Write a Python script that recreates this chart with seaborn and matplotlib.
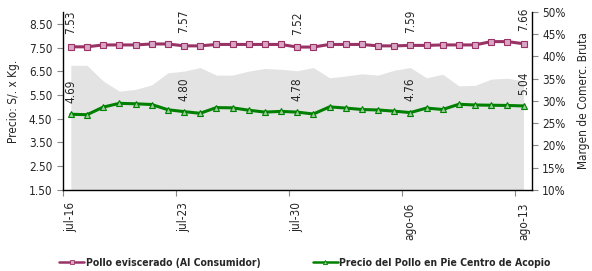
import numpy as np
import pandas as pd
import matplotlib
matplotlib.use("Agg")
import matplotlib.pyplot as plt
import seaborn as sns
from matplotlib.ticker import FuncFormatter, FixedLocator
from matplotlib.lines import Line2D

sns.set_style("white")
plt.rcParams['font.family'] = ['DejaVu Sans']
plt.rcParams['font.stretch'] = 'condensed'

# daily series, jul-16 .. ago-13
tick_labels = ["jul-16", "jul-23", "jul-30", "ago-06", "ago-13"]
pollo_eviscerado = [7.53, 7.53, 7.61, 7.61, 7.61, 7.65, 7.65, 7.57, 7.57, 7.63,
                    7.63, 7.63, 7.63, 7.63, 7.52, 7.52, 7.63, 7.63, 7.63, 7.57,
                    7.57, 7.59, 7.59, 7.61, 7.61, 7.61, 7.75, 7.75, 7.66]
pollo_pie = [4.69, 4.67, 4.99, 5.15, 5.13, 5.10, 4.88, 4.80, 4.73, 4.97,
             4.96, 4.86, 4.78, 4.81, 4.78, 4.70, 5.00, 4.95, 4.89, 4.87,
             4.82, 4.76, 4.95, 4.89, 5.11, 5.08, 5.07, 5.06, 5.04]
margen = [0.380, 0.380, 0.345, 0.322, 0.326, 0.336, 0.363, 0.367, 0.375, 0.358,
          0.358, 0.367, 0.373, 0.371, 0.368, 0.375, 0.352, 0.356, 0.361, 0.358,
          0.369, 0.375, 0.352, 0.360, 0.334, 0.335, 0.349, 0.351, 0.345]
series_names = ["Pollo eviscerado (Al Consumidor)",
                "Precio del Pollo en Pie Centro de Acopio"]

df = pd.DataFrame({"dia": np.arange(len(pollo_eviscerado)),
                   "eviscerado": pollo_eviscerado,
                   "pie": pollo_pie,
                   "margen": margen})

purple = "#993366"
green = "#008000"
fs = 8.5

fig = plt.figure(figsize=(5.92, 2.71), dpi=100)
ax = fig.add_axes([0.106, 0.299, 0.792, 0.657])
ax2 = ax.twinx()

# margin area on the secondary axis, behind the price lines
ax2.fill_between(df["dia"], 0, df["margen"], color="#e3e3e3", lw=0)
ax2.set_ylim(0.10, 0.50)
ax2.set_yticks(np.arange(0.10, 0.501, 0.05))
ax2.yaxis.set_major_formatter(FuncFormatter(lambda v, p: f"{v*100:.0f}%"))
ax2.set_ylabel("Margen de Comerc. Bruta", fontsize=fs, labelpad=8)
ax.set_zorder(ax2.get_zorder() + 1)
ax.patch.set_visible(False)

sns.lineplot(data=df, x="dia", y="eviscerado", ax=ax, color=purple, lw=2.2,
             marker="s", markersize=4.5, markerfacecolor="#d9a6c6",
             markeredgecolor=purple, markeredgewidth=0.8, legend=False)
sns.lineplot(data=df, x="dia", y="pie", ax=ax, color=green, lw=2.2,
             marker="^", markersize=4.5, markerfacecolor="#99cc99",
             markeredgecolor=green, markeredgewidth=0.8, legend=False)

for i in range(0, len(df), 7):
    ax.annotate(f"{pollo_eviscerado[i]:.2f}", (i, pollo_eviscerado[i]),
                xytext=(0, 9), textcoords="offset points", rotation=90,
                ha="center", va="bottom", fontsize=fs)
    ax.annotate(f"{pollo_pie[i]:.2f}", (i, pollo_pie[i]),
                xytext=(0, 8), textcoords="offset points", rotation=90,
                ha="center", va="bottom", fontsize=fs)

ax.set_xlim(-0.5, len(df) - 0.5)
ax.set_ylim(1.5, 9.0)
ax.set_yticks(np.arange(1.5, 8.51, 1.0))
ax.yaxis.set_major_formatter(FuncFormatter(lambda v, p: f"{v:.2f}"))
ax.set_ylabel("Precio: S/. x Kg.", fontsize=fs, labelpad=6)
ax.set_xlabel("")

# ticks at category boundaries, labels centred on the points
ax.xaxis.set_major_locator(FixedLocator(np.arange(-0.5, len(df), 7)))
ax.xaxis.set_major_formatter(FuncFormatter(lambda v, p: ""))
ax.xaxis.set_minor_locator(FixedLocator(np.arange(0, len(df), 7)))
ax.set_xticklabels(tick_labels, minor=True, rotation=90, fontsize=fs)
ax.tick_params(axis="x", which="major", length=4, direction="out", bottom=True, color="#888888")
ax.tick_params(axis="x", which="minor", length=0, pad=9)
ax.tick_params(axis="y", length=4, direction="out", left=True, labelsize=fs, color="#888888")
ax2.tick_params(axis="y", length=4, direction="out", right=True, labelsize=fs, color="#888888")

for a in (ax, ax2):
    a.spines["top"].set_visible(False)
    for s in ("left", "bottom", "right"):
        a.spines[s].set_color("black")
        a.spines[s].set_linewidth(1.0)
ax.spines["right"].set_visible(False)
ax2.spines["left"].set_visible(False)
ax2.spines["bottom"].set_visible(False)

handles = [
    Line2D([], [], color=purple, lw=1.8, marker="s", markersize=3,
           markerfacecolor="#d9a6c6", markeredgecolor=purple, markeredgewidth=0.6),
    Line2D([], [], color=green, lw=1.8, marker="^", markersize=3,
           markerfacecolor="#99cc99", markeredgecolor=green, markeredgewidth=0.6),
]
fig.legend(handles, series_names, loc="center", bbox_to_anchor=(0.515, 0.03),
           ncol=2, frameon=False, columnspacing=5.0, handlelength=2.4,
           handletextpad=0.15, prop={"size": 7.5, "weight": "bold", "stretch": "condensed"})

fig.savefig("out.png", dpi=100)
